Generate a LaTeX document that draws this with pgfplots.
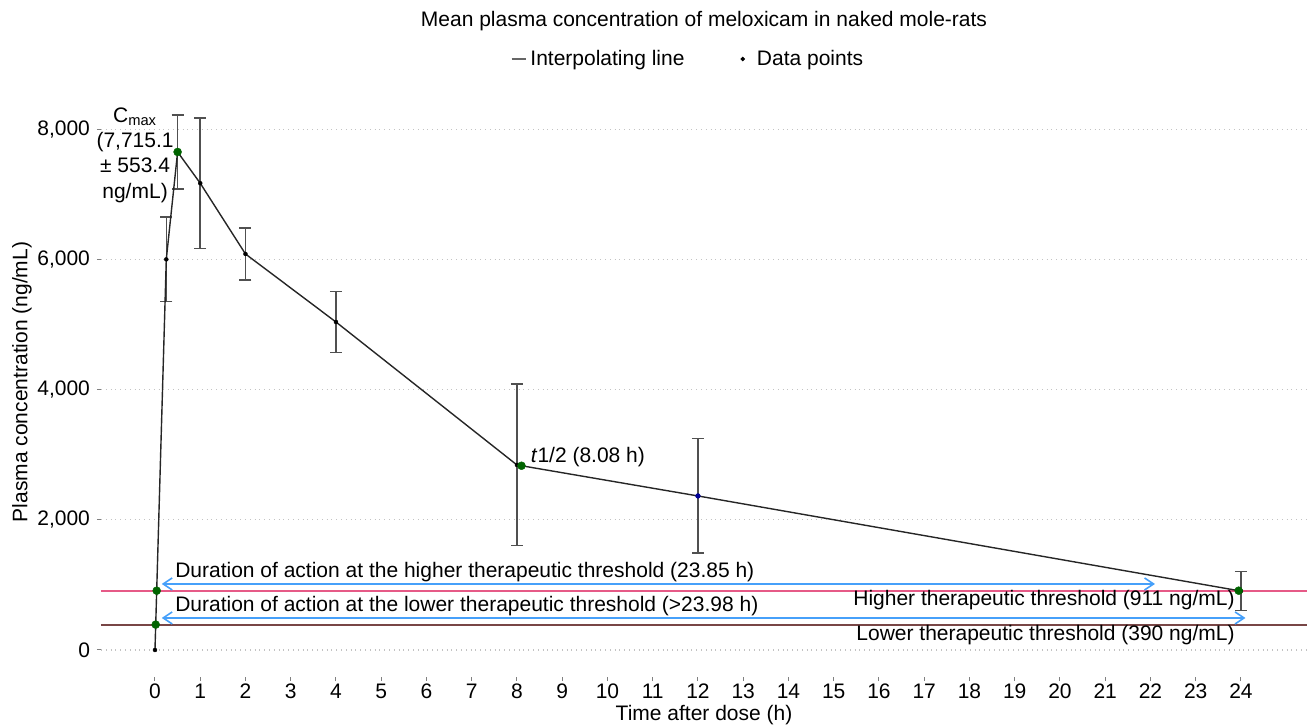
\documentclass[border=0pt]{standalone}
\usepackage{pgfplots}
\pgfplotsset{compat=1.18}
\usepackage{pgfplotstable}
\usepackage{fontspec}
\setmainfont{Liberation Sans}
\usetikzlibrary{arrows.meta}

\definecolor{pinkline}{RGB}{230,90,135}
\definecolor{brownline}{RGB}{120,70,70}
\definecolor{arrowblue}{RGB}{70,160,250}
\definecolor{dotgreen}{RGB}{0,100,0}
\definecolor{gridgrey}{RGB}{195,195,195}
\definecolor{errgrey}{RGB}{80,80,80}

% time (h), mean concentration (ng/mL), SD
\pgfplotstableread{
t conc err
0 0 0
0.25 6000 650
0.5 7650 570
1 7170 1000
2 6083 400
4 5038 470
8 2842 1240
12 2366 880
24 905 300
}\meloxicam

\begin{document}
\begin{tikzpicture}[font=\fontsize{10.5}{12.6}\selectfont]
\useasboundingbox (0,0) rectangle (653.5pt,362pt);
\begin{axis}[
    at={(50.5pt,23.5pt)}, anchor=south west,
    scale only axis,
    width=603pt, height=287pt,
    xmin=-1.193, xmax=25.46,
    ymin=-415, ymax=8402,
    clip=false,
    axis line style={draw=none},
    tick pos=left,
    tick align=outside,
    major tick length=2pt,
    tick style={gray, line width=0.5pt},
    xtick={0,...,24},
    ytick={0,2000,4000,6000,8000},
    xticklabel style={yshift=2pt},
    scaled y ticks=false,
    /pgf/number format/.cd, 1000 sep={,}, assume math mode=true,
    /pgfplots/.cd,
    ymajorgrids,
    grid style={gridgrey, dotted, line width=0.6pt},
    title={Mean plasma concentration of meloxicam in naked mole-rats},
    title style={at={(axis description cs:0.5,1)}, anchor=center, yshift=35pt},
    xlabel={Time after dose (h)},
    xlabel style={at={(axis description cs:0.5,0)}, anchor=center, yshift=-19pt},
    ylabel={Plasma concentration (ng/mL)},
    ylabel style={at={(axis description cs:-0.0655,0.514)}, anchor=center},
    legend columns=2,
    legend style={at={(axis description cs:0.5,1)}, anchor=center, yshift=22pt, xshift=-7.5pt,
        draw=none, fill=none, /tikz/every even column/.append style={column sep=26pt}},
]
% threshold lines
\addplot[pinkline, line width=1pt, forget plot] coordinates {(-1.193,911) (25.46,911)};
\addplot[brownline, line width=1pt, forget plot] coordinates {(-1.193,390) (25.46,390)};

% duration arrows
\addplot[arrowblue, line width=0.8pt, {Straight Barb[length=4.5pt,width=6pt]}-{Straight Barb[length=4.5pt,width=6pt]}, forget plot]
    coordinates {(0.15,1014) (22.1,1014)};
\addplot[arrowblue, line width=0.8pt, {Straight Barb[length=4.5pt,width=6pt]}-{Straight Barb[length=4.5pt,width=6pt]}, forget plot]
    coordinates {(0.15,492) (24.1,492)};

% error bars
\addplot[draw=none, mark=none, forget plot, skip coords between index={0}{1},
    error bars/.cd, y dir=both, y explicit,
    error bar style={draw=errgrey, line width=0.75pt},
    error mark options={rotate=90, mark size=3pt, draw=errgrey, line width=0.75pt}]
    table[x=t, y=conc, y error=err] {\meloxicam};

% interpolating line
\addplot[black!85, line width=0.7pt, mark=none, forget plot] table[x=t, y=conc] {\meloxicam};

% data points
\addplot[draw=none, mark=*, mark size=1pt, mark options={fill=black, draw=black, line width=0.2pt}, forget plot]
    table[x=t, y=conc] {\meloxicam};
\addplot[draw=none, mark=*, mark size=1.2pt, mark options={fill=blue!60!black, draw=blue!60!black, line width=0.2pt}, forget plot]
    coordinates {(12,2366)};
\addplot[draw=none, mark=*, mark size=2pt, mark options={fill=dotgreen, draw=dotgreen, line width=0.2pt}, forget plot]
    coordinates {(0.5,7650) (8.1,2830) (0.038,911) (0.016,390) (23.95,911)};

% legend
\addlegendimage{legend image code/.code={\draw[gray!80!black, line width=0.8pt] (0pt,0pt) -- (7pt,0pt);}}
\addlegendimage{legend image code/.code={\fill[black] (0pt,0pt) circle (0.9pt);}}
\legend{Interpolating line, \hspace{4pt}Data points}

% annotations
\node[align=center, inner sep=0pt] at (axis cs:-0.44,7600)
    {C\textsubscript{max}\\(7,715.1\\± 553.4\\ng/mL)};
\node[anchor=west, inner sep=0pt] at (axis cs:8.3,2970) {\textit{t}1/2 (8.08 h)};
\node[anchor=west, inner sep=0pt] at (axis cs:0.44,1200)
    {Duration of action at the higher therapeutic threshold (23.85 h)};
\node[anchor=west, inner sep=0pt] at (axis cs:0.44,676)
    {Duration of action at the lower therapeutic threshold (>23.98 h)};
\node[anchor=east, inner sep=0pt] at (axis cs:23.87,768)
    {Higher therapeutic threshold (911 ng/mL)};
\node[anchor=east, inner sep=0pt] at (axis cs:23.87,230)
    {Lower therapeutic threshold (390 ng/mL)};
\end{axis}
\end{tikzpicture}
\end{document}
